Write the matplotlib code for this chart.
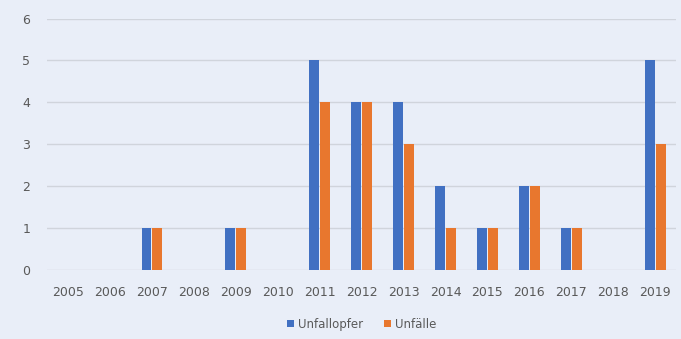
import matplotlib.pyplot as plt
import numpy as np

years = ["2005", "2006", "2007", "2008", "2009", "2010", "2011", "2012",
         "2013", "2014", "2015", "2016", "2017", "2018", "2019"]
unfallopfer = [0, 0, 1, 0, 1, 0, 5, 4, 4, 2, 1, 2, 1, 0, 5]
unfaelle = [0, 0, 1, 0, 1, 0, 4, 4, 3, 1, 1, 2, 1, 0, 3]

bg = "#e9eef8"
blue = "#4170c2"
orange = "#e8772e"

fig = plt.figure(figsize=(6.81, 3.39), dpi=100, facecolor=bg)
ax = fig.add_axes([0.069, 0.205, 0.924, 0.74], facecolor=bg)

x = np.arange(len(years))
w = 0.23
ax.bar(x - w / 2 - 0.015, unfallopfer, w, color=blue, label="Unfallopfer", zorder=3)
ax.bar(x + w / 2 + 0.015, unfaelle, w, color=orange, label="Unfälle", zorder=3)

ax.set_xlim(-0.5, len(years) - 0.5)
ax.set_ylim(0, 6)
ax.set_yticks(range(7))
ax.set_xticks(x)
ax.set_xticklabels(years)
ax.grid(axis="y", color="#d0d4dc", linewidth=1, zorder=0)
for s in ax.spines.values():
    s.set_visible(False)
ax.tick_params(length=0, labelsize=9, colors="#595959")
ax.tick_params(axis="y", pad=12)
ax.tick_params(axis="x", pad=12)

ax.legend(loc="upper center", bbox_to_anchor=(0.5, -0.15), ncol=2, frameon=False,
          fontsize=8.5, labelcolor="#595959", handlelength=0.6, handleheight=0.6,
          handletextpad=0.3, columnspacing=1.8)

fig.savefig("out.png", dpi=100, facecolor=bg)
